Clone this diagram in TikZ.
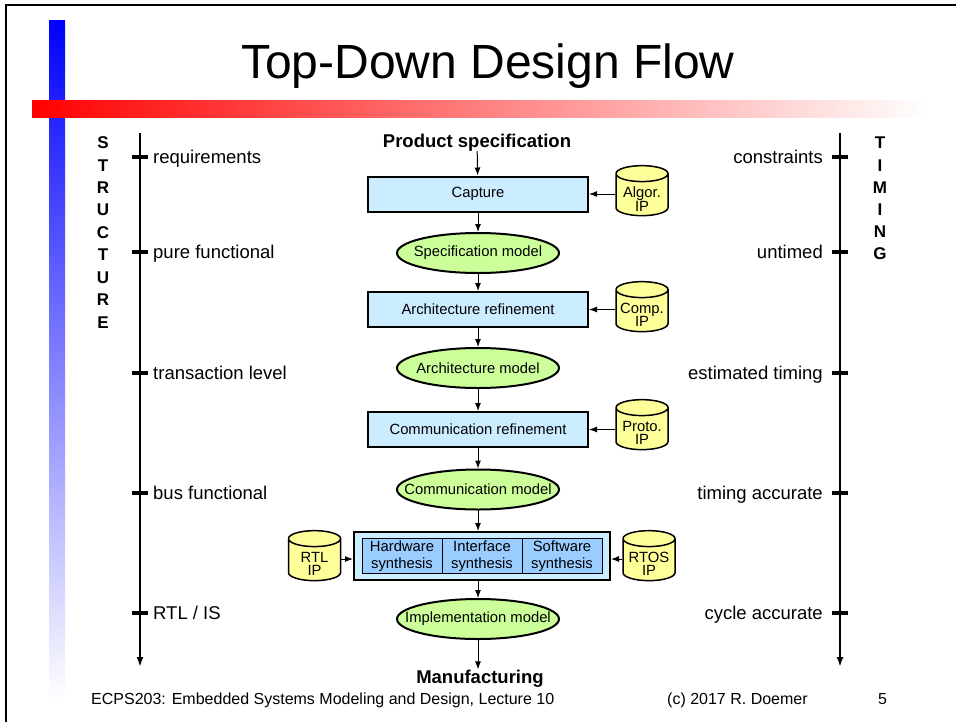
\documentclass[tikz,border=0pt]{standalone}
\usepackage{fontspec}
\setmainfont{Liberation Sans}
\usetikzlibrary{arrows.meta,shapes}
\definecolor{boxblue}{RGB}{204,236,255}
\definecolor{cellblue}{RGB}{153,204,255}
\definecolor{modelgreen}{RGB}{204,255,153}
\definecolor{ipyellow}{RGB}{255,255,153}
\newcommand{\fixedtext}[1]{\makebox[0pt]{#1}}
\tikzstyle{refinestep}=[draw,line width=2pt,fill=boxblue,minimum width=220pt,minimum height=35pt,font=\fontsize{14.8}{17}\selectfont]
\tikzstyle{modelstep}=[ellipse,draw,line width=2pt,fill=modelgreen,minimum width=162pt,minimum height=40pt,inner sep=0pt,font=\fontsize{14.8}{17}\selectfont]
\tikzstyle{synthcell}=[draw,line width=1pt,fill=cellblue,minimum width=80pt,minimum height=35pt,inner sep=0pt,align=center,font=\fontsize{14.8}{17}\selectfont]
\tikzstyle{iplib}=[cylinder,shape border rotate=90,shape aspect=0.42,draw,line width=1.5pt,fill=ipyellow,minimum width=52pt,minimum height=50pt,inner sep=0pt,text width=38pt,text height=7pt,text depth=6pt]
\tikzstyle{iptext}=[align=center,inner sep=0pt,yshift=-4pt,font=\fontsize{14.8}{13.5}\selectfont]
\tikzstyle{orientedarc}=[-{Latex[length=8pt,width=6pt]},line width=1pt]
\tikzstyle{axisarc}=[-{Latex[length=10pt,width=7pt]},line width=2pt]
\tikzstyle{axistick}=[line width=3.5pt]
\tikzstyle{levellabel}=[inner sep=0pt,font=\fontsize{18.5}{20}\selectfont]
\tikzstyle{milestone}=[inner sep=0pt,font=\bfseries\fontsize{18.5}{20}\selectfont]
\tikzstyle{axisletter}=[inner sep=0pt,font=\bfseries\fontsize{17}{18}\selectfont]
\tikzstyle{footnote}=[inner sep=0pt,font=\fontsize{16}{18}\selectfont]

\begin{document}
\begin{tikzpicture}[x=1pt,y=-1pt]
\useasboundingbox (0,0) rectangle (956,721);

% slide frame and bars
\draw[line width=2.5pt] (6,724) -- (6,5) -- (960,5);
\shade[top color=blue,bottom color=white] (49,20) rectangle (65,700);
\shade[left color=red,right color=white] (32,100) rectangle (930,117);

\node[anchor=base,inner sep=0pt,font=\fontsize{48}{50}\selectfont] (title) at (488,78) {Top-Down Design Flow};

% design flow
\node[milestone,anchor=base] (spec) at (477,147) {Product specification};
\node[refinestep] (S1) at (478,194) {Capture};
\node[modelstep] (M1) at (478,253) {\fixedtext{Specification model}};
\node[refinestep] (S2) at (478,309.5) {Architecture refinement};
\node[modelstep] (M2) at (478,368) {\fixedtext{Architecture model}};
\node[refinestep] (S3) at (478,429.5) {Communication refinement};
\node[modelstep] (M3) at (478,489.5) {\fixedtext{Communication model}};
\node[draw,line width=2pt,fill=boxblue,minimum width=256pt,minimum height=48pt] (S4) at (482,556) {};
\node[synthcell] (hw) at (402,556) {Hardware\\synthesis};
\node[synthcell] (if) at (482,556) {Interface\\synthesis};
\node[synthcell] (sw) at (562,556) {Software\\synthesis};
\node[modelstep] (M4) at (478,619) {\fixedtext{Implementation model}};
\node[milestone,anchor=base] (manuf) at (480,683) {Manufacturing};

% IP libraries
\node[iplib] (algor) at (642,195) {};
\node[iplib] (comp) at (642,311) {};
\node[iplib] (proto) at (642,429) {};
\node[iplib] (rtl) at (314.5,560) {};
\node[iplib] (rtos) at (649,560) {};
\node[iptext] (algortext) at (algor) {Algor.\\IP};
\node[iptext] (comptext) at (comp) {Comp.\\IP};
\node[iptext] (prototext) at (proto) {Proto.\\IP};
\node[iptext] (rtltext) at (rtl) {RTL\\IP};
\node[iptext] (rtostext) at (rtos) {RTOS\\IP};

\draw[orientedarc] (spec) -- (S1);
\draw[orientedarc] (S1) -- (M1);
\draw[orientedarc] (M1) -- (S2);
\draw[orientedarc] (S2) -- (M2);
\draw[orientedarc] (M2) -- (S3);
\draw[orientedarc] (S3) -- (M3);
\draw[orientedarc] (M3) -- (M3 |- S4.north);
\draw[orientedarc] (M4 |- S4.south) -- (M4);
\draw[orientedarc] (M4) -- (M4 |- manuf.north);
\draw[orientedarc] (algor.west |- S1) -- (S1);
\draw[orientedarc] (comp.west |- S2) -- (S2);
\draw[orientedarc] (proto.west |- S3) -- (S3);
\draw[orientedarc] (rtl.east |- 0,559) -- (S4.west |- 0,559);
\draw[orientedarc] (rtos.west |- 0,559) -- (S4.east |- 0,559);

% structure axis
\coordinate (STOP) at (140,133);
\coordinate (SBOT) at (140,667);
\draw[axisarc] (STOP) -- (SBOT);
\draw[axistick] (132,157) -- (148,157);
\draw[axistick] (132,252) -- (148,252);
\draw[axistick] (132,373) -- (148,373);
\draw[axistick] (132,493) -- (148,493);
\draw[axistick] (132,613) -- (148,613);
\node[levellabel,anchor=base west] (L1) at (153,163) {requirements};
\node[levellabel,anchor=base west] (L2) at (153,258) {pure functional};
\node[levellabel,anchor=base west] (L3) at (153,379) {transaction level};
\node[levellabel,anchor=base west] (L4) at (153,499) {bus functional};
\node[levellabel,anchor=base west] (L5) at (153,619) {RTL / IS};
\foreach \ch [count=\i] in {S,T,R,U,C,T,U,R,E}
  \node[axisletter] (st\i) at (103,143+22.4*\i-22.4) {\ch};

% timing axis
\coordinate (TTOP) at (840,133);
\coordinate (TBOT) at (840,667);
\draw[axisarc] (TTOP) -- (TBOT);
\draw[axistick] (832,157) -- (848,157);
\draw[axistick] (832,252) -- (848,252);
\draw[axistick] (832,373) -- (848,373);
\draw[axistick] (832,493) -- (848,493);
\draw[axistick] (832,613) -- (848,613);
\node[levellabel,anchor=base east] (R1) at (823,163) {constraints};
\node[levellabel,anchor=base east] (R2) at (823,258) {untimed};
\node[levellabel,anchor=base east] (R3) at (823,379) {estimated timing};
\node[levellabel,anchor=base east] (R4) at (823,499) {timing accurate};
\node[levellabel,anchor=base east] (R5) at (823,619) {cycle accurate};
\foreach \ch [count=\i] in {T,I,M,I,N,G}
  \node[axisletter] (tm\i) at (880,143+22.2*\i-22.2) {\ch};

% footer
\node[footnote,anchor=base west] (course) at (91,704) {ECPS203: Embedded Systems Modeling and Design, Lecture 10};
\node[footnote,anchor=base west] (copy) at (667,704) {(c) 2017 R. Doemer};
\node[footnote,anchor=base west] (page) at (878,704) {5};

\end{tikzpicture}
\end{document}
